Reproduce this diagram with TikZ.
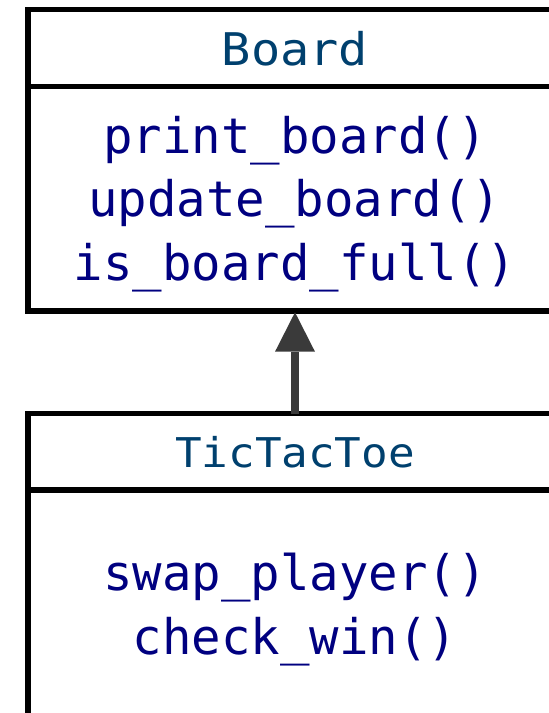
\documentclass[tikz,border=0pt]{standalone}
\usepackage{fontspec}
\usetikzlibrary{arrows.meta}
\newfontfamily\monofont{DejaVu Sans Mono}
\newfontfamily\monotitle[FakeStretch=1.08]{DejaVu Sans Mono}
\definecolor{titlecol}{RGB}{0,64,110}
\definecolor{methcol}{RGB}{0,0,128}
\definecolor{arrowcol}{RGB}{58,58,58}
\tikzset{
  classbox/.style={draw=black, line width=5.4pt, rectangle, inner sep=0pt, outer sep=0pt, anchor=north west},
  divider/.style={draw=black, line width=5.4pt},
  titletext/.style={anchor=base, inner sep=0pt, text=titlecol, font=\monotitle\fontsize{#1}{#1}\selectfont},
  methtext/.style={anchor=base, inner sep=0pt, text=methcol, font=\monofont\fontsize{49}{49}\selectfont},
  inherit/.style={draw=arrowcol, line width=7.7pt, -{Triangle[length=39.4pt,width=40pt,line width=0pt]}}
}
\begin{document}
\begin{tikzpicture}[x=1pt,y=-1pt]
\useasboundingbox (0,0) rectangle (549,713);
\clip (0,0) rectangle (549,713);
% Board class
\node[classbox, minimum width=534pt, minimum height=301.3pt] (board) at (28,9.7) {};
\coordinate (bdl) at (28,86.5);
\coordinate (bdr) at (562,86.5);
\draw[divider] (bdl) -- (bdr);
\node[titletext=45] (boardtitle) at (295,65) {Board};
\node[methtext] (m1) at (295,153.3) {print\_board()};
\node[methtext] (m2) at (295,216.7) {update\_board()};
\node[methtext] (m3) at (295,280) {is\_board\_full()};
% TicTacToe class
\node[classbox, minimum width=534pt, minimum height=400pt] (ttt) at (28,413.7) {};
\coordinate (tdl) at (28,490);
\coordinate (tdr) at (562,490);
\draw[divider] (tdl) -- (tdr);
\node[titletext=41] (ttttitle) at (295,467.7) {TicTacToe};
\node[methtext] (m4) at (295,590) {swap\_player()};
\node[methtext] (m5) at (295,654.3) {check\_win()};
% inheritance arrow
\draw[inherit] (ttt.north) -- ([yshift=-1.3pt]board.south);
\end{tikzpicture}
\end{document}
